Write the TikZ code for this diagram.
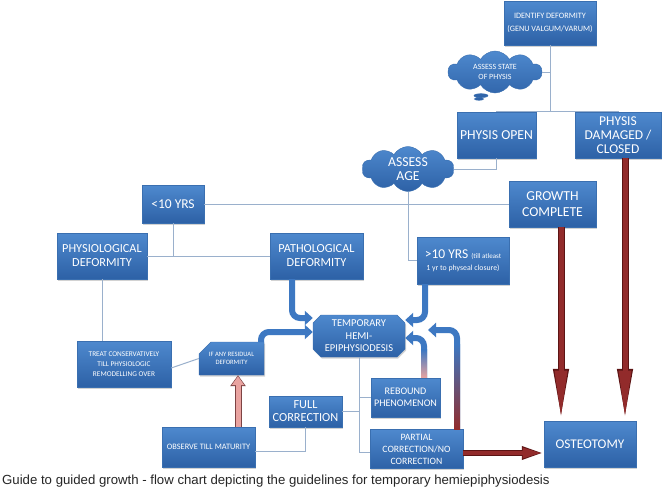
\documentclass[tikz,border=0pt]{standalone}
\usepackage{fontspec}
\setmainfont{Carlito}
\newfontfamily\capfont{Liberation Sans}
\usetikzlibrary{shapes.misc,shapes.symbols,shapes.callouts,arrows.meta,shadows,calc}
\definecolor{boxtop}{HTML}{4E89CE}
\definecolor{boxbot}{HTML}{2D61A6}
\definecolor{boxedge}{HTML}{3A6FB0}
\definecolor{linec}{HTML}{9AB0CC}
\definecolor{arrblue}{HTML}{3D78C2}
\definecolor{arrred}{HTML}{922B2B}
\definecolor{arrreddk}{HTML}{5C1414}
\definecolor{pinkf}{HTML}{E9A3A0}
\newcommand\fsz[2]{\fontsize{#1}{#2}\selectfont}
\begin{document}
\begin{tikzpicture}[x=1pt,y=-1pt,
  box/.style={rectangle, inner sep=1pt, top color=boxtop, bottom color=boxbot,
    draw=boxedge, line width=0.4pt, text=white, align=center,
    drop shadow={opacity=0.35, shadow xshift=1pt, shadow yshift=-1.5pt}},
  cloudbox/.style={cloud, cloud puffs=10, cloud puff arc=120, aspect=2, inner sep=0pt,
    top color=boxtop, bottom color=boxbot, draw=boxedge, line width=0.4pt,
    text=white, align=center},
  conn/.style={draw=linec, line width=1pt},
  bluearr/.style={draw=arrblue, line width=6pt, rounded corners=8pt,
    -{Triangle[length=8pt,width=14pt]}},
  redO/.style={draw=arrreddk, line width=7pt, -{Triangle[length=52pt,width=14pt]}},
  redI/.style={draw=arrred, line width=5pt, -{Triangle[length=49pt,width=11.5pt]}, shorten >=1.2pt},
  redhO/.style={draw=arrreddk, line width=6.5pt, -{Triangle[length=22pt,width=12pt]}},
  redhI/.style={draw=arrred, line width=4.5pt, -{Triangle[length=20pt,width=9.5pt]}, shorten >=1.2pt},
  pinkO/.style={draw=arrreddk!80, line width=7pt, -{Triangle[length=11pt,width=15pt]}},
  pinkI/.style={draw=pinkf, line width=5pt, -{Triangle[length=9pt,width=12pt]}, shorten >=1pt}
]
\fill[white] (0,0) rectangle (662,490);
\useasboundingbox (0,0) rectangle (662,490);

% nodes
\node[box, minimum width=92pt, minimum height=44pt, font=\fsz{8.2}{13.5}] (identify) at (550,23) {IDENTIFY DEFORMITY\\(GENU VALGUM/VARUM)};
\node[cloud callout, cloud puffs=10, cloud puff arc=120, aspect=2.2, inner sep=0pt,
    top color=boxtop, bottom color=boxbot, draw=boxedge, line width=0.4pt,
    text=white, align=center, minimum width=94pt, minimum height=42pt,
    callout absolute pointer={(479,99)}, font=\fsz{8}{10.5}] (state) at (495,72) {ASSESS STATE\\OF PHYSIS};
\node[box, minimum width=79pt, minimum height=46pt, font=\fsz{13.7}{15}] (physopen) at (496.5,135) {PHYSIS OPEN};
\node[box, minimum width=86pt, minimum height=46pt, font=\fsz{13.5}{13.8}] (physdam) at (618,135) {PHYSIS\\DAMAGED /\\CLOSED};
\node[cloudbox, minimum width=92pt, minimum height=45pt, font=\fsz{13.7}{14.5}] (age) at (408,169) {ASSESS\\AGE};
\node[box, minimum width=87pt, minimum height=46pt, font=\fsz{13.7}{15.5}] (growth) at (552.5,204) {GROWTH\\COMPLETE};
\node[box, minimum width=62pt, minimum height=38pt, font=\fsz{13.5}{15}] (lt10) at (173,204) {<10 YRS};
\node[box, minimum width=92pt, minimum height=47pt, inner sep=0pt] (gt10) at (463,260.5) {{\fsz{13.5}{14}>10 YRS \fsz{7}{8}(till atleast}\\{\fsz{7.8}{10}1 yr to physeal closure)}};
\node[box, minimum width=93pt, minimum height=46pt, font=\fsz{12.3}{14}] (patho) at (316.5,256) {PATHOLOGICAL\\DEFORMITY};
\node[box, minimum width=90pt, minimum height=46pt, font=\fsz{12.3}{14}] (physio) at (102,256) {PHYSIOLOGICAL\\DEFORMITY};
\node[box, minimum width=94pt, minimum height=46pt, font=\fsz{7.3}{10}] (treat) at (124,364) {TREAT CONSERVATIVELY\\TILL PHYSIOLOGIC\\REMODELLING OVER};
\node[box, chamfered rectangle, chamfered rectangle corners=north west, chamfered rectangle xsep=6pt, chamfered rectangle ysep=6pt, minimum width=65pt, minimum height=33pt, inner sep=0pt, font=\fsz{6.6}{8.5}] (resid) at (231.5,358.5) {IF ANY RESIDUAL\\DEFORMITY};
\node[box, chamfered rectangle, chamfered rectangle xsep=4pt, chamfered rectangle ysep=4pt, minimum width=92pt, minimum height=42pt, inner sep=0pt, font=\fsz{10.5}{12.5}] (hemi) at (359,336) {TEMPORARY\\HEMI-\\EPIPHYSIODESIS};
\node[box, minimum width=69pt, minimum height=39pt, font=\fsz{10.1}{12.5}] (rebound) at (405.5,397.5) {REBOUND\\PHENOMENON};
\node[box, minimum width=73pt, minimum height=31pt, font=\fsz{12.3}{13}] (full) at (305.5,411.5) {FULL\\CORRECTION};
\node[box, minimum width=93pt, minimum height=40pt, font=\fsz{8.3}{10}] (observe) at (208.5,447) {OBSERVE TILL MATURITY};
\node[box, minimum width=93pt, minimum height=39pt, font=\fsz{9.7}{12}] (partial) at (416.5,449) {PARTIAL\\CORRECTION/NO\\CORRECTION};
\node[box, minimum width=92pt, minimum height=46pt, font=\fsz{13.3}{15}] (osteo) at (590,444) {OSTEOTOMY};

\node[anchor=west, inner sep=0pt, text=black!85, font=\capfont\fsz{13.2}{15}] (cap) at (2,481) {Guide to guided growth - flow chart depicting the guidelines for temporary hemiepiphysiodesis};

% thin connectors
\draw[conn] (identify.south) -- ++(0,66) coordinate (j1);
\draw[conn] (physopen.north) -- (physopen.north |- j1) -- (physdam.north |- j1) -- (physdam.north);
\draw[conn] (state.east) -- (state.east -| identify.south);
\draw[conn] (physopen.south) |- (age.east);
\draw[conn] (lt10.east) -- (growth.west);
\draw[conn] (age.south) |- (gt10.west);
\draw[conn] (lt10.south) -- (lt10.south |- physio.east);
\draw[conn] (physio.east) -- (patho.west);
\draw[conn] (physio.south) -- (physio.south |- treat.north);
\draw[conn] ([yshift=-4pt]treat.east) -- (resid.west);
\draw[conn] (hemi.south) |- ([yshift=-3pt]partial.west);
\draw[conn] (rebound.west) -- (rebound.west -| hemi.south);
\draw[conn] (full.east) -- (full.east -| hemi.south);
\draw[conn] (full.south) |- ([yshift=-4pt]observe.east);

% blue arrows
\draw[bluearr] ([xshift=-24.5pt]patho.south) |- ([yshift=18pt]hemi.west);
\draw[bluearr] ([xshift=-38pt]gt10.south) |- ([yshift=16pt]hemi.east);
\draw[bluearr] ([xshift=29.5pt]resid.north) |- ([yshift=4pt]hemi.west);
\draw[bluearr] ([xshift=18.5pt]rebound.north) |- ([yshift=-2pt]hemi.east);
\shade[top color=arrblue, bottom color=pinkf] ($(rebound.north)+(15.5,0)$) rectangle ($(rebound.north)+(21.5,-28)$);
\coordinate (ptip) at (428,330);
\draw[bluearr] ([xshift=40.5pt]partial.north) |- (ptip);
\shade[top color=arrblue, bottom color=arrred] ($(partial.north)+(37.5,0)$) rectangle ($(partial.north)+(43.5,-85)$);

% pink arrow
\draw[pinkO] ([xshift=29.5pt]observe.north) -- ([xshift=29.5pt]observe.north |- resid.south);
\draw[pinkI] ([xshift=29.5pt]observe.north) -- ([xshift=29.5pt]observe.north |- resid.south);

% red arrows
\draw[redO] ([xshift=8.5pt]growth.south) -- ([xshift=8.5pt]growth.south |- osteo.north);
\draw[redI] ([xshift=8.5pt]growth.south) -- ([xshift=8.5pt]growth.south |- osteo.north);
\draw[redO] ([xshift=7pt]physdam.south) -- ([xshift=7pt]physdam.south |- osteo.north);
\draw[redI] ([xshift=7pt]physdam.south) -- ([xshift=7pt]physdam.south |- osteo.north);
\draw[redhO] ([yshift=-4pt]partial.east) -- ([yshift=-4pt]partial.east -| osteo.west);
\draw[redhI] ([yshift=-4pt]partial.east) -- ([yshift=-4pt]partial.east -| osteo.west);
\end{tikzpicture}
\end{document}
